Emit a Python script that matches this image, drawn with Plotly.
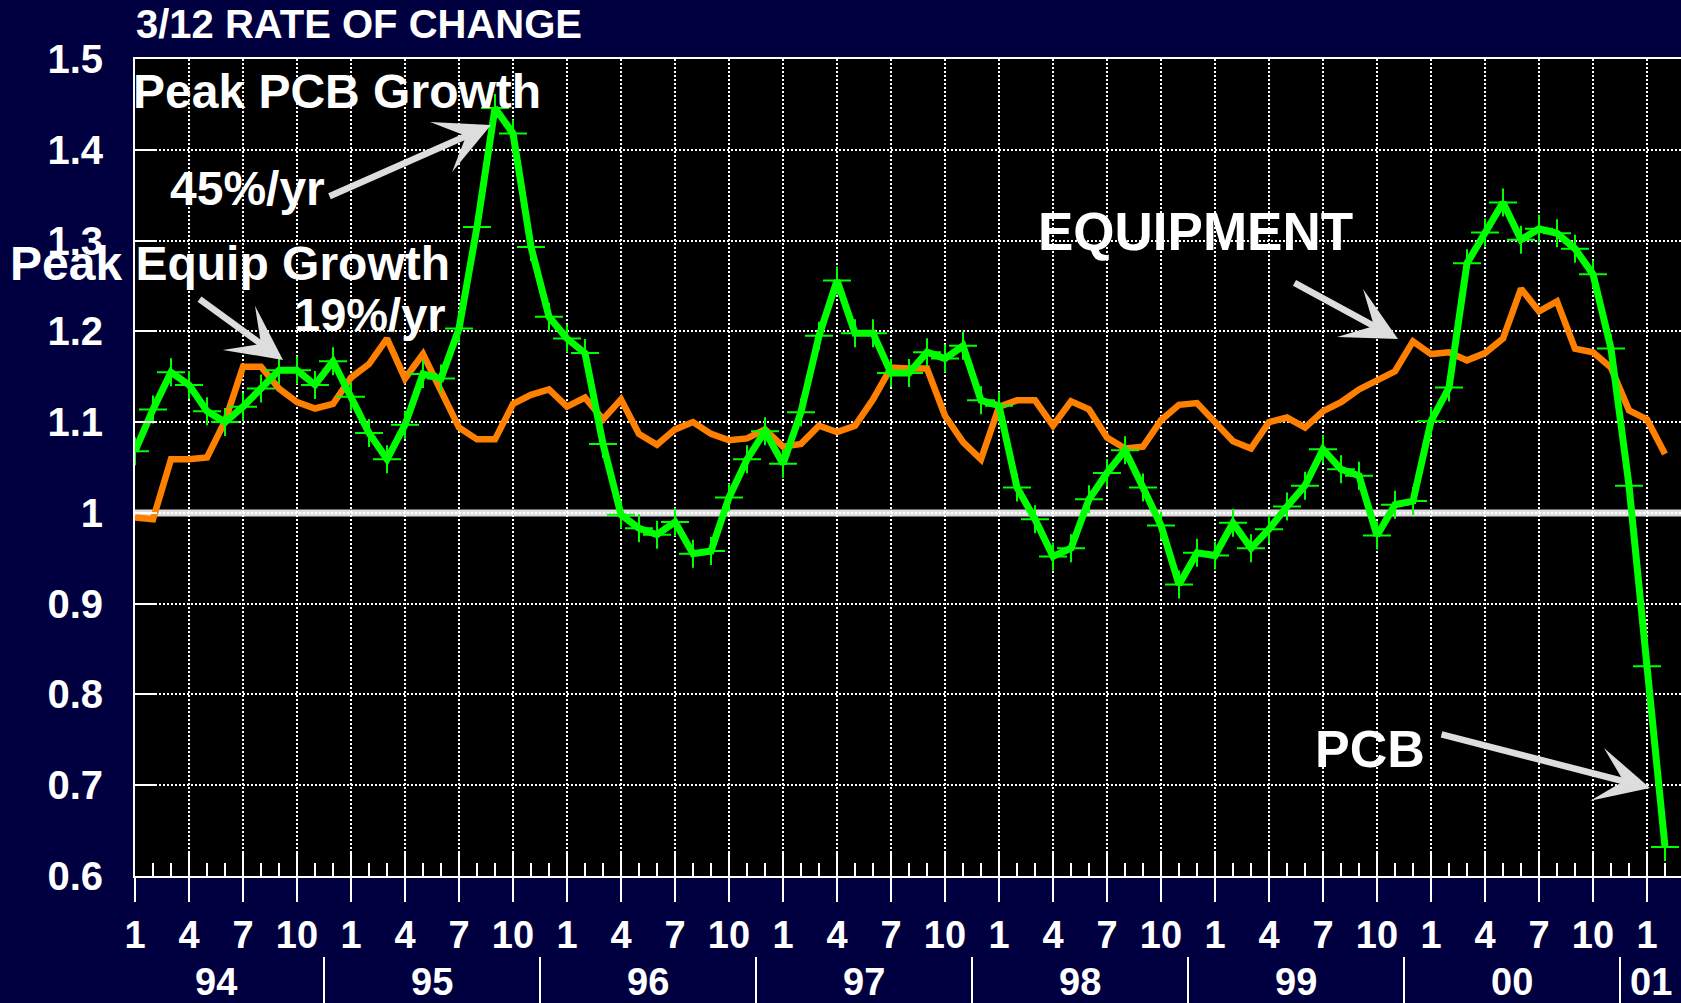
import plotly.graph_objects as go

# Monthly 3/12 rate of change, Jan 1994 .. Feb 2001
years = ["94", "95", "96", "97", "98", "99", "00", "01"]

pcb = [
    1.068, 1.114, 1.155, 1.141, 1.112, 1.100, 1.117, 1.137, 1.157, 1.157, 1.141, 1.167,
    1.128, 1.088, 1.059, 1.097, 1.153, 1.148, 1.203, 1.315, 1.446, 1.418, 1.293, 1.216,
    1.192, 1.176, 1.076, 0.998, 0.983, 0.976, 0.990, 0.955, 0.958, 1.017, 1.059, 1.090,
    1.054, 1.111, 1.195, 1.256, 1.198, 1.198, 1.154, 1.154, 1.177, 1.170, 1.184, 1.124,
    1.118, 1.028, 0.993, 0.952, 0.961, 1.015, 1.044, 1.069, 1.028, 0.986, 0.921, 0.956,
    0.953, 0.989, 0.961, 0.982, 1.007, 1.030, 1.070, 1.048, 1.041, 0.975, 1.009, 1.013,
    1.101, 1.138, 1.275, 1.309, 1.342, 1.301, 1.313, 1.308, 1.291, 1.263, 1.181, 1.030,
    0.831, 0.632,
]

equipment = [
    0.995, 0.993, 1.059, 1.059, 1.061, 1.101, 1.161, 1.161, 1.137, 1.122, 1.115, 1.120,
    1.149, 1.164, 1.192, 1.148, 1.175, 1.135, 1.094, 1.081, 1.081, 1.120, 1.130, 1.136,
    1.117, 1.127, 1.103, 1.125, 1.087, 1.075, 1.092, 1.100, 1.087, 1.080, 1.082, 1.092,
    1.073, 1.076, 1.096, 1.089, 1.096, 1.125, 1.160, 1.159, 1.159, 1.107, 1.078, 1.059,
    1.117, 1.124, 1.124, 1.096, 1.123, 1.114, 1.083, 1.071, 1.073, 1.102, 1.119, 1.121,
    1.101, 1.079, 1.071, 1.100, 1.105, 1.094, 1.112, 1.122, 1.136, 1.146, 1.156, 1.189,
    1.175, 1.177, 1.168, 1.176, 1.192, 1.247, 1.222, 1.233, 1.181, 1.177, 1.160, 1.113,
    1.103, 1.065,
]

y_ticks = [0.6, 0.7, 0.8, 0.9, 1.0, 1.1, 1.2, 1.3, 1.4, 1.5]

# ---- layout geometry (pixels) ----
W, H = 1681, 1003
L, R, T, B = 135, 0, 59, 127
PLOT_W = W - L - R
PLOT_H = H - T - B
PX_PER_MONTH = 18
X_MAX = PLOT_W / PX_PER_MONTH

NAVY = "#000040"
WHITE = "#ffffff"
GREY = "#dddddd"
GREEN = "#00ff00"
ORANGE = "#ff8000"
FONT = "Liberation Sans, Arial, Helvetica, sans-serif"


def xp(px):
    return (px - L) / PLOT_W


def yp(py):
    return (H - B - py) / PLOT_H


months = list(range(len(pcb)))
tick_vals = months[::3]
tick_text = [str(m % 12 + 1) for m in tick_vals]

fig = go.Figure()

fig.add_trace(go.Scatter(
    x=months, y=equipment, mode="lines", name="EQUIPMENT",
    line=dict(color=ORANGE, width=6.5), hoverinfo="skip",
))
fig.add_trace(go.Scatter(
    x=months, y=pcb, mode="lines+markers", name="PCB", xaxis="x2",
    line=dict(color=GREEN, width=7),
    marker=dict(symbol="cross-thin", size=20, color=GREEN,
                line=dict(color=GREEN, width=2)),
    hoverinfo="skip",
))

grid = dict(showgrid=True, gridcolor=WHITE, gridwidth=1.5, griddash="2px,2px")

fig.update_layout(
    width=W, height=H, autosize=False,
    margin=dict(l=L, r=R, t=T, b=B, pad=0),
    paper_bgcolor=NAVY, plot_bgcolor="#000000",
    showlegend=False,
    font=dict(family=FONT, color=WHITE, weight="bold"),
    xaxis=dict(
        range=[0, X_MAX], tickmode="array", tickvals=tick_vals, ticktext=tick_text,
        ticks="outside", ticklen=24, tickwidth=2, tickcolor=WHITE,
        ticklabelstandoff=0,
        tickfont=dict(size=38, color=WHITE, family=FONT, weight="bold"),
        showline=True, linecolor=WHITE, linewidth=2, mirror=True,
        zeroline=False, **grid,
    ),
    xaxis2=dict(
        range=[0, X_MAX], overlaying="x", anchor="y", side="bottom",
        tickmode="linear", tick0=0, dtick=3,
        ticks="inside", ticklen=25, tickwidth=2, tickcolor=WHITE,
        showticklabels=False, showgrid=False, zeroline=False, showline=False,
        minor=dict(ticks="inside", ticklen=13, tickwidth=2, tickcolor=WHITE,
                   tick0=0, dtick=1, showgrid=False),
    ),
    yaxis=dict(
        range=[0.6, 1.5], tickmode="array", tickvals=y_ticks,
        ticktext=[f"{v:g}" for v in y_ticks],
        ticks="inside", ticklen=22, tickwidth=2, tickcolor=WHITE,
        ticklabelstandoff=22,
        tickfont=dict(size=40, color=WHITE, family=FONT, weight="bold"),
        showline=True, linecolor=WHITE, linewidth=2,
        zeroline=False, **grid,
    ),
)

# no-change reference line at 1.0
fig.add_shape(type="line", xref="x", yref="y", x0=0, x1=X_MAX, y0=1.0, y1=1.0,
              line=dict(color=GREY, width=7), layer="below")

# year bands under the month labels
bounds = [-1.5 + 12 * k for k in range(len(years))] + [X_MAX]
for k, yr in enumerate(years):
    if k > 0:
        fig.add_shape(type="line", xref="x", yref="paper",
                      x0=bounds[k], x1=bounds[k], y0=yp(957), y1=yp(1003),
                      line=dict(color=WHITE, width=2))
    fig.add_annotation(x=(bounds[k] + bounds[k + 1]) / 2, y=yp(982),
                       xref="x", yref="paper", text=yr, showarrow=False,
                       xanchor="center", yanchor="middle",
                       font=dict(size=38, color=WHITE, family=FONT, weight="bold"))

# title and callouts
labels = [
    ("3/12 RATE OF CHANGE", 134, 24, "left", 40),
    ("Peak PCB Growth", 131, 91, "left", 48),
    ("45%/yr", 247, 188, "center", 48),
    ("Peak Equip Growth", 8, 263, "left", 48),
    ("19%/yr", 370, 314, "center", 47),
    ("EQUIPMENT", 1195, 231, "center", 53),
    ("PCB", 1370, 749, "center", 52),
]
for text, x, y, anchor, size in labels:
    fig.add_annotation(x=xp(x), y=yp(y), xref="paper", yref="paper", text=text,
                       showarrow=False, xanchor=anchor, yanchor="middle",
                       font=dict(size=size, color=WHITE, family=FONT, weight="bold"))

arrows = [
    ((491, 125), (328, 197)),
    ((283, 360), (198, 298)),
    ((1398, 339), (1293, 282)),
    ((1650, 788), (1440, 734)),
]
for (hx, hy), (tx, ty) in arrows:
    fig.add_annotation(x=xp(hx), y=yp(hy), xref="paper", yref="paper",
                       ax=tx - hx, ay=ty - hy, axref="pixel", ayref="pixel",
                       text="", showarrow=True, arrowhead=3, arrowsize=1.4,
                       arrowwidth=6.5, arrowcolor=GREY, standoff=0)

fig.write_html("out.html")
